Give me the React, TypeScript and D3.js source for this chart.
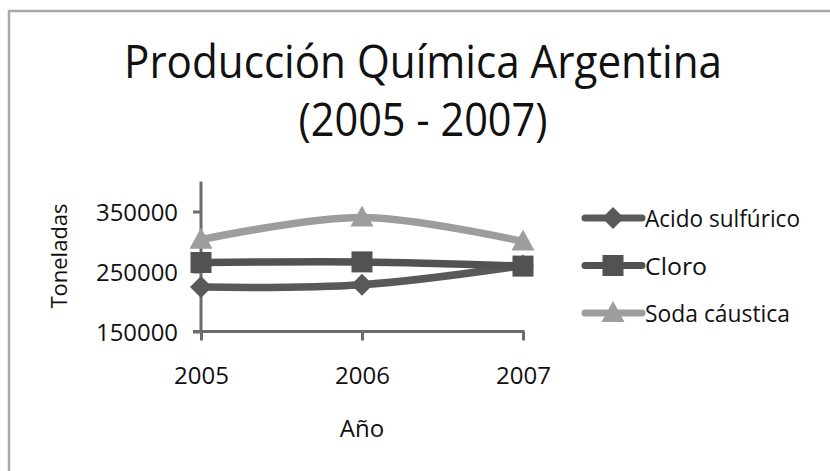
import React, { useEffect, useRef } from "react";
import * as d3 from "d3";

const years = ["2005", "2006", "2007"];
const acidoSulfurico = [224000, 228000, 260000];
const cloro = [265000, 266000, 259000];
const sodaCaustica = [303000, 340000, 300000];
const yTicks = [150000, 250000, 350000];
const seriesNames = ["Acido sulfúrico", "Cloro", "Soda cáustica"];

const FONT = "'Open Sans', 'Noto Sans', sans-serif";

export default function App() {
  const svgRef = useRef<SVGSVGElement>(null);

  useEffect(() => {
    const svg = d3.select(svgRef.current);
    svg.selectAll("*").remove();

    const width = 830;
    const height = 471;
    svg.attr("width", width).attr("height", height);

    svg.append("rect")
      .attr("x", 0).attr("y", 0)
      .attr("width", width).attr("height", height)
      .attr("fill", "#fff");

    // chart area frame (cut off at right and bottom)
    svg.append("rect")
      .attr("x", 9).attr("y", 11)
      .attr("width", 900).attr("height", 600)
      .attr("fill", "none")
      .attr("stroke", "#a9a9a9")
      .attr("stroke-width", 2.5);

    const x = d3.scalePoint().domain(years).range([201, 523]);
    const y = d3.scaleLinear().domain([150000, 400000]).range([331.5, 181.5]);

    // title
    svg.append("text")
      .attr("x", 423).attr("y", 78)
      .attr("text-anchor", "middle")
      .attr("font-family", FONT)
      .attr("font-size", 46)
      .attr("fill", "#111")
      .attr("textLength", 598)
      .attr("lengthAdjust", "spacingAndGlyphs")
      .text("Producción Química Argentina");

    svg.append("text")
      .attr("x", 423).attr("y", 136)
      .attr("text-anchor", "middle")
      .attr("font-family", FONT)
      .attr("font-size", 46)
      .attr("fill", "#111")
      .attr("textLength", 249)
      .attr("lengthAdjust", "spacingAndGlyphs")
      .text("(2005 - 2007)");

    const axisColor = "#6b6b6b";

    // y axis
    const yAxis = svg.append("g")
      .attr("transform", `translate(${x("2005")}, 0)`)
      .call(d3.axisLeft(y).tickValues(yTicks).tickSize(8).tickPadding(16).tickFormat(d3.format("d")));
    yAxis.select(".domain").remove();
    yAxis.append("line")
      .attr("x1", 0).attr("x2", 0)
      .attr("y1", y(400000)).attr("y2", y(150000))
      .attr("stroke", axisColor).attr("stroke-width", 3);
    yAxis.selectAll(".tick line").attr("stroke", axisColor).attr("stroke-width", 3);
    yAxis.selectAll(".tick text")
      .attr("font-family", FONT)
      .attr("font-size", 24)
      .attr("fill", "#111")
      .attr("x", -23)
      .attr("dy", "0.36em")
      .attr("textLength", 82)
      .attr("lengthAdjust", "spacingAndGlyphs");

    // x axis
    const xAxis = svg.append("g")
      .attr("transform", `translate(0, ${y(150000)})`)
      .call(d3.axisBottom(x).tickSize(9).tickPadding(24));
    xAxis.select(".domain").remove();
    xAxis.append("line")
      .attr("x1", x("2005")! - 8).attr("x2", x("2007")! + 1.5)
      .attr("y1", 0).attr("y2", 0)
      .attr("stroke", axisColor).attr("stroke-width", 3);
    xAxis.selectAll(".tick line").attr("stroke", axisColor).attr("stroke-width", 3);
    xAxis.selectAll(".tick text")
      .attr("font-family", FONT)
      .attr("font-size", 24)
      .attr("fill", "#111")
      .attr("y", 0)
      .attr("dy", 0)
      .attr("transform", "translate(0, 52.5)");

    // axis titles
    svg.append("text")
      .attr("transform", "translate(67, 256) rotate(-90)")
      .attr("text-anchor", "middle")
      .attr("font-family", FONT)
      .attr("font-size", 22)
      .attr("fill", "#111")
      .text("Toneladas");

    svg.append("text")
      .attr("x", 362).attr("y", 437)
      .attr("text-anchor", "middle")
      .attr("font-family", FONT)
      .attr("font-size", 24)
      .attr("fill", "#111")
      .text("Año");

    const series = [
      { name: seriesNames[0], values: acidoSulfurico, color: "#595959", marker: "diamond" },
      { name: seriesNames[1], values: cloro, color: "#525252", marker: "square" },
      { name: seriesNames[2], values: sodaCaustica, color: "#9d9d9d", marker: "triangle" },
    ];

    const line = d3.line<number>()
      .x((_, i) => x(years[i])!)
      .y(d => y(d))
      .curve(d3.curveCatmullRom.alpha(0.5));

    const markerPath = (type: string) => {
      if (type === "diamond") return "M0,-11L11,0L0,11L-11,0Z";
      if (type === "square") return "M-10.5,-10.5H10.5V10.5H-10.5Z";
      return "M0,-12L11.5,9L-11.5,9Z";
    };

    series.forEach(s => {
      svg.append("path")
        .datum(s.values)
        .attr("d", line)
        .attr("fill", "none")
        .attr("stroke", s.color)
        .attr("stroke-width", 7.5)
        .attr("stroke-linecap", "round");

      svg.selectAll(null)
        .data(s.values)
        .enter()
        .append("path")
        .attr("transform", (d, i) => `translate(${x(years[i])}, ${y(d)})`)
        .attr("d", markerPath(s.marker))
        .attr("fill", s.color);
    });

    // legend
    const legend = svg.append("g");
    series.forEach((s, i) => {
      const ly = 218 + i * 47.5;
      legend.append("line")
        .attr("x1", 585).attr("x2", 642)
        .attr("y1", ly).attr("y2", ly)
        .attr("stroke", s.color)
        .attr("stroke-width", 7)
        .attr("stroke-linecap", "round");
      legend.append("path")
        .attr("transform", `translate(613, ${ly})`)
        .attr("d", markerPath(s.marker))
        .attr("fill", s.color);
      legend.append("text")
        .attr("x", 645).attr("y", ly + 9)
        .attr("font-family", FONT)
        .attr("font-size", 24)
        .attr("fill", "#111")
        .attr("textLength", s.name === "Cloro" ? 62 : s.name === "Acido sulfúrico" ? 155 : 145)
        .attr("lengthAdjust", "spacingAndGlyphs")
        .text(s.name);
    });
  }, []);

  return <svg ref={svgRef} style={{ position: "absolute", left: 0, top: 0 }}></svg>;
}
